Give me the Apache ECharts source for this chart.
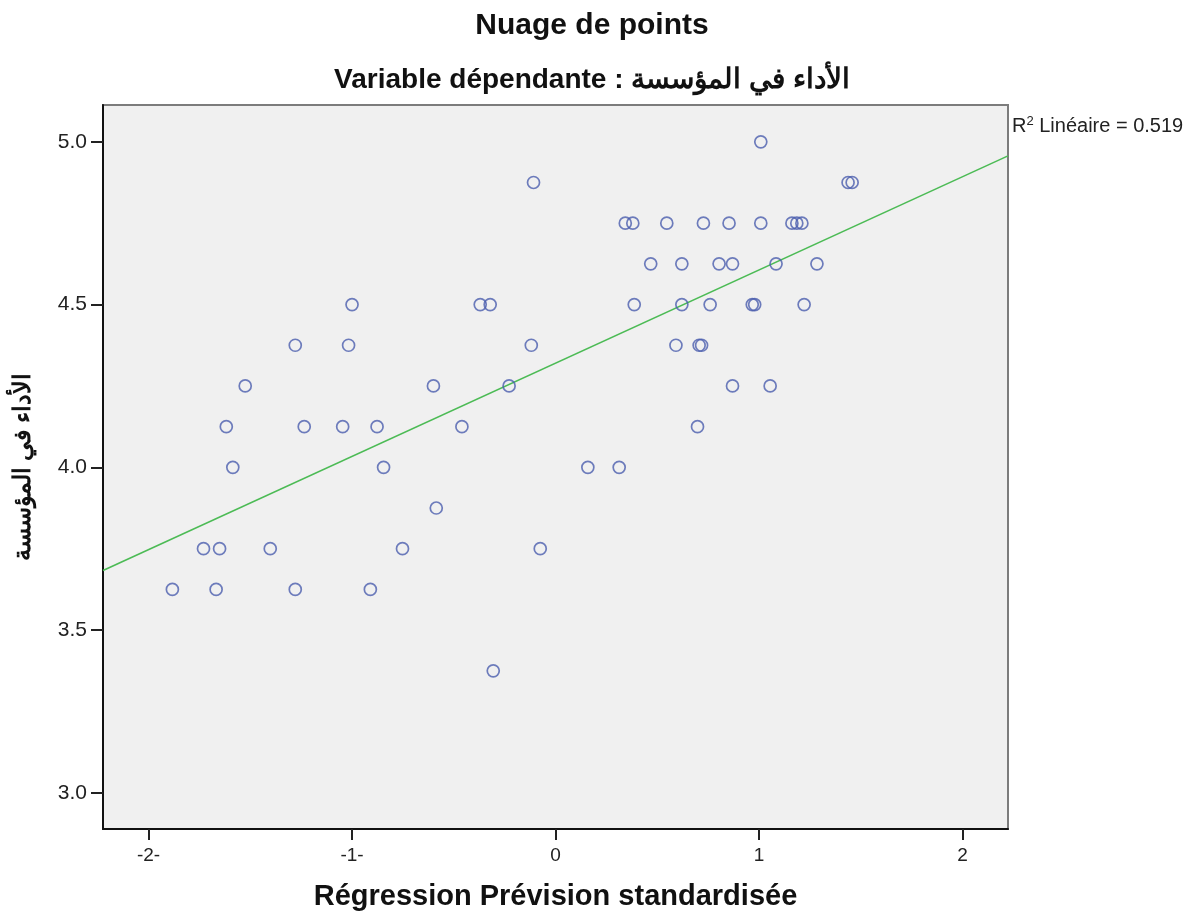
<!DOCTYPE html>
<html>
<head>
<meta charset="utf-8">
<script src="https://cdn.jsdelivr.net/npm/echarts@6/dist/echarts.min.js"></script>
<style>
  html, body { margin: 0; padding: 0; background: #fff; }
  #chart { width: 1195px; height: 918px; }
</style>
</head>
<body>
<div id="chart"></div>
<script>
// tick values and the labels shown under / beside them
const xTickValues = [-2, -1, 0, 1, 2];
const xTickLabels = ['-2-', '-1-', '0', '1', '2'];
const yTickValues = [3.0, 3.5, 4.0, 4.5, 5.0];
const yTickLabels = ['3.0', '3.5', '4.0', '4.5', '5.0'];

// standardised predicted value (x) for each respondent
const predicted = [
  -0.306,
  -1.883, -1.668, -1.279, -0.910,
  -1.730, -1.651, -1.402, -0.752, -0.075,
  -0.586,
  -1.586, -0.845, 0.159, 0.313,
  -1.618, -1.235, -1.046, -0.877, -0.460, 0.698,
  -1.525, -0.600, -0.228, 0.870, 1.055,
  -1.279, -1.017, -0.119, 0.592, 0.706, 0.718,
  -1.000, -0.370, -0.321, 0.387, 0.621, 0.760, 0.967, 0.979, 1.222,
  0.468, 0.621, 0.804, 0.870, 1.084, 1.285,
  0.343, 0.380, 0.547, 0.727, 0.853, 1.009, 1.162, 1.186, 1.211,
  -0.108, 1.438, 1.458,
  1.009
];
// الأداء في المؤسسة (y) for the same respondents
const performance = [
  3.375,
  3.625, 3.625, 3.625, 3.625,
  3.75, 3.75, 3.75, 3.75, 3.75,
  3.875,
  4.0, 4.0, 4.0, 4.0,
  4.125, 4.125, 4.125, 4.125, 4.125, 4.125,
  4.25, 4.25, 4.25, 4.25, 4.25,
  4.375, 4.375, 4.375, 4.375, 4.375, 4.375,
  4.5, 4.5, 4.5, 4.5, 4.5, 4.5, 4.5, 4.5, 4.5,
  4.625, 4.625, 4.625, 4.625, 4.625, 4.625,
  4.75, 4.75, 4.75, 4.75, 4.75, 4.75, 4.75, 4.75, 4.75,
  4.875, 4.875, 4.875,
  5.0
];

// linear fit
const fitIntercept = 4.320;
const fitSlope = 0.2863;
const fitR2 = '0.519';

const xMin = -2.224, xMax = 2.224;
const yMin = 2.889, yMax = 5.113;

const font = '"Liberation Sans", Arial, sans-serif';

const chart = echarts.init(document.getElementById('chart'));

const points = predicted.map((x, i) => [x, performance[i]]);
const fitData = [xMin, xMax].map(x => [x, fitIntercept + fitSlope * x]);

chart.setOption({
  animation: false,
  backgroundColor: '#ffffff',
  title: [
    {
      text: 'Nuage de points',
      left: 587, top: 6, textAlign: 'center',
      textStyle: { fontFamily: font, fontWeight: 'bold', fontSize: 30, color: '#111' }
    },
    {
      text: 'Variable dépendante : الأداء في المؤسسة',
      left: 587, top: 61, textAlign: 'center',
      textStyle: { fontFamily: font, fontWeight: 'bold', fontSize: 28, color: '#111' }
    },
    {
      text: '{r|R}{s|2}{r| Linéaire = ' + fitR2 + '}',
      left: 1007, top: 110,
      textStyle: {
        fontWeight: 'normal',
        rich: {
          r: { fontFamily: font, fontWeight: 'normal', fontSize: 20, color: '#222', verticalAlign: 'bottom' },
          s: { fontFamily: font, fontWeight: 'normal', fontSize: 13, color: '#222', verticalAlign: 'top', padding: [0, 0, 8, 0] }
        }
      }
    }
  ],
  grid: {
    left: 103, right: 187, top: 105, bottom: 89,
    outerBoundsMode: 'none',
    containLabel: false,
    show: true,
    backgroundColor: '#f0f0f0',
    borderColor: '#7c7c7c',
    borderWidth: 2
  },
  xAxis: {
    type: 'value',
    min: xMin, max: xMax,
    name: 'Régression Prévision standardisée',
    nameLocation: 'middle',
    nameGap: 53,
    nameTextStyle: { fontFamily: font, fontWeight: 'bold', fontSize: 29, color: '#111' },
    splitLine: { show: false },
    axisLine: { onZero: false, lineStyle: { color: '#111', width: 2 } },
    axisTick: { customValues: xTickValues, length: 11, lineStyle: { color: '#222', width: 2 } },
    axisLabel: {
      customValues: xTickValues,
      margin: 17,
      fontFamily: font, fontSize: 19, color: '#222',
      formatter: v => xTickLabels[xTickValues.indexOf(v)]
    }
  },
  yAxis: {
    type: 'value',
    min: yMin, max: yMax,
    name: 'الأداء في المؤسسة',
    nameLocation: 'middle',
    nameRotate: 90,
    nameGap: 68,
    nameTextStyle: { fontFamily: font, fontWeight: 'bold', fontSize: 24, color: '#111' },
    splitLine: { show: false },
    axisLine: { onZero: false, lineStyle: { color: '#111', width: 2 } },
    axisTick: { customValues: yTickValues, length: 12, lineStyle: { color: '#222', width: 2 } },
    axisLabel: {
      customValues: yTickValues,
      margin: 16,
      fontFamily: font, fontSize: 21, color: '#222',
      formatter: v => yTickLabels[yTickValues.indexOf(v)]
    }
  },
  series: [
    {
      type: 'line',
      data: fitData,
      symbol: 'none',
      silent: true,
      lineStyle: { color: '#4cbb55', width: 1.6 },
      z: 2
    },
    {
      type: 'scatter',
      data: points,
      symbol: 'circle',
      symbolSize: 12,
      itemStyle: { color: 'rgba(0,0,0,0)', borderColor: '#4b5eae', borderWidth: 1.7 },
      z: 3
    }
  ]
});
</script>
</body>
</html>
